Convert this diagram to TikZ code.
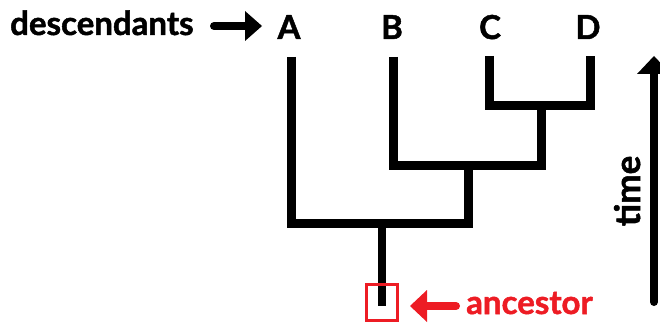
\documentclass[tikz,border=0pt]{standalone}
\usepackage{fontspec}
\setmainfont{Lato}[BoldFeatures={FakeBold=1.5}]
\definecolor{ancred}{HTML}{ED1C24}
\begin{document}
\begin{tikzpicture}[x=1pt,y=-1pt,
  lbl/.style={font=\fontsize{33}{36}\selectfont\bfseries, inner sep=0pt, anchor=base},
  branch/.style={line width=9pt, line join=miter, line cap=butt},
  shaft/.style={line width=8pt, line cap=round},
  head/.style={line width=0pt}]
\useasboundingbox (0,0) rectangle (660,323);
% labels
\node[lbl] (A) at (289,39) {A};
\node[lbl] (B) at (392,39) {B};
\node[lbl] (C) at (490,39) {C};
\node[lbl] (D) at (588,39) {D};
\node[lbl, anchor=base west] (desc) at (10,35) {descendants};
\node[lbl, anchor=base west, text=ancred] (anc) at (466,314) {ancestor};
\node[lbl, anchor=base, rotate=90, font=\fontsize{35}{38}\selectfont\bfseries] (time) at (640,191) {time};
% tree
\coordinate (a1) at (291,57);
\coordinate (a2) at (291,223);
\coordinate (ab) at (468,223);
\coordinate (b1) at (393,57);
\coordinate (b2) at (393,165);
\coordinate (bc) at (541,165);
\coordinate (c1) at (489,56);
\coordinate (c2) at (489,106);
\coordinate (d1) at (590,56);
\coordinate (d2) at (590,106);
\coordinate (cd) at (541,106);
\coordinate (r1) at (382,223);
\coordinate (r2) at (382,306);
\draw[branch] (a1) -- (a2) -- (ab) -- (468,165);
\draw[branch] (b1) -- (b2) -- (bc) -- (cd);
\draw[branch] (c1) -- (c2) -- (d2) -- (d1);
\draw[line width=8pt] (r1) -- (r2);
% ancestor box
\node[draw=ancred, line width=3.5pt, minimum width=31pt, minimum height=36pt, inner sep=0pt] (box) at (382,302.5) {};
% descendants arrow
\coordinate (ds) at (214,26);
\coordinate (db) at (246,26);
\draw[shaft] (ds) -- (db);
\fill[head] (245,11) -- (262,26) -- (245,41) -- cycle;
% ancestor arrow
\coordinate (as) at (456,306);
\coordinate (ab2) at (426,306);
\draw[shaft, ancred] (as) -- (ab2);
\fill[head, ancred] (427,290) -- (410,306) -- (427,322) -- cycle;
% time arrow
\coordinate (tb) at (654,302);
\coordinate (tt) at (654,73);
\draw[shaft] (tb) -- (tt);
\fill[head] (637,74) -- (654,56) -- (671,74) -- cycle;
\end{tikzpicture}
\end{document}
